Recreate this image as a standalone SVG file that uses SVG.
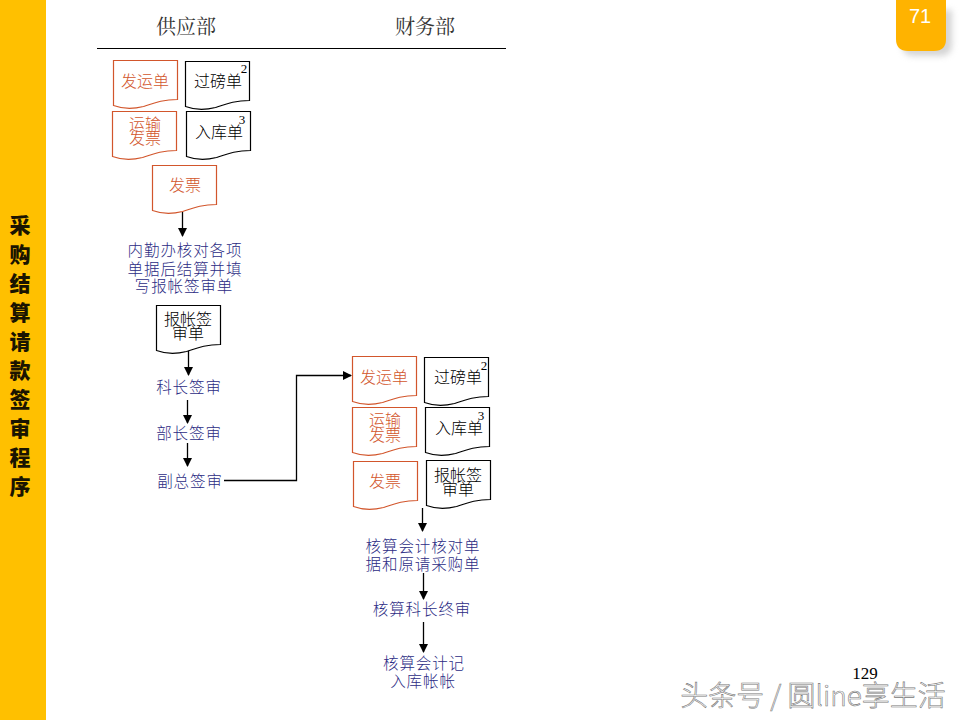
<svg xmlns="http://www.w3.org/2000/svg" width="960" height="720" viewBox="0 0 960 720">
<style>
text{font-family:"Noto Sans CJK SC","Noto Sans CJK JP",sans-serif;text-anchor:middle}
.doc{fill:#fff;stroke-width:1.2}
.r{stroke:#d2562c}.k{stroke:#000}
.tr{fill:#d2562c;font-size:16px;font-weight:300}.tk{fill:#000;font-size:16px;font-weight:300}
.tb{fill:#2c2c84;font-size:15.500px;letter-spacing:.9px;font-weight:300}
.h{fill:#333;font-size:20px;font-family:"Noto Serif CJK SC","Noto Sans CJK SC",sans-serif}
.s{font-family:"Liberation Serif",serif;font-size:13px;fill:#000}
.c{fill:none;stroke:#000;stroke-width:1.3}
.side{fill:#1a1400;font-size:21px;font-weight:900}
</style>
<defs>
<marker id="a" markerWidth="10" markerHeight="10" refX="8" refY="4.500" orient="auto" markerUnits="userSpaceOnUse"><path d="M0 0L9 4.500L0 9z" fill="#000"/></marker>
<path id="d" d="M0 0H64V39C50 39 42 42 30 46C18 49 8 48 0 45Z"/>
<filter id="sh" x="-20%" y="-20%" width="150%" height="150%"><feGaussianBlur stdDeviation="3"/></filter>
</defs>
<rect width="960" height="720" fill="#fff"/>
<g id="sidebar"><rect width="46" height="720" fill="#ffc000"/>
<text class="side" x="20" y="233">采</text><text class="side" x="20" y="262">购</text><text class="side" x="20" y="291">结</text><text class="side" x="20" y="320">算</text><text class="side" x="20" y="349">请</text><text class="side" x="20" y="378">款</text><text class="side" x="20" y="407">签</text><text class="side" x="20" y="436">审</text><text class="side" x="20" y="465">程</text><text class="side" x="20" y="494">序</text></g>
<g id="page-tab"><path d="M902 10H952V44Q952 56 940 56H914Q902 56 902 44Z" fill="#aaa" opacity=".5" filter="url(#sh)"/><path d="M896 0H946V39Q946 51 934 51H908Q896 51 896 39Z" fill="#ffb300"/><text x="920" y="23" font-size="20" style="font-family:'Liberation Sans',sans-serif" fill="#fff">71</text></g>
<g id="header"><text class="h" x="186" y="34">供应部</text><text class="h" x="425" y="34">财务部</text><line x1="97" y1="48.500" x2="506" y2="48.500" stroke="#000" stroke-width="1.2"/></g>
<g id="connectors">
<path class="c" d="M182.500 212V236" marker-end="url(#a)"/>
<path class="c" d="M188.500 350V375" marker-end="url(#a)"/>
<path class="c" d="M187.500 400V423" marker-end="url(#a)"/>
<path class="c" d="M187.500 443V466" marker-end="url(#a)"/>
<path class="c" d="M224 480.500H296.500V375.500H351" marker-end="url(#a)"/>
<path class="c" d="M422.500 508V531" marker-end="url(#a)"/>
<path class="c" d="M423.500 573V599" marker-end="url(#a)"/>
<path class="c" d="M423.500 622V652" marker-end="url(#a)"/>
</g>
<g id="n1"><use href="#d" x="113.500" y="60.500" class="doc r"/><text class="tr" x="145" y="87">发运单</text></g>
<g id="n2"><use href="#d" x="185.500" y="61.500" class="doc k"/><text class="tk" x="218" y="87">过磅单</text><text class="s" x="244" y="73">2</text></g>
<g id="n3"><use href="#d" x="112.500" y="111.500" class="doc r"/><text class="tr" x="145" y="130">运输</text><text class="tr" x="145" y="144">发票</text></g>
<g id="n4"><use href="#d" x="186.500" y="111.500" class="doc k"/><text class="tk" x="219" y="138">入库单</text><text class="s" x="242" y="124">3</text></g>
<g id="n5"><use href="#d" x="152.500" y="165.500" class="doc r"/><text class="tr" x="185" y="191">发票</text></g>
<g id="n6"><text class="tb" x="185" y="256">内勤办核对各项</text><text class="tb" x="185" y="275">单据后结算并填</text><text class="tb" x="184" y="292">写报帐签审单</text></g>
<g id="n7"><use href="#d" x="156.500" y="305.500" class="doc k"/><text class="tk" x="188" y="325">报帐签</text><text class="tk" x="188" y="339">审单</text></g>
<g id="n8"><text class="tb" x="189" y="393">科长签审</text></g>
<g id="n9"><text class="tb" x="189" y="439">部长签审</text></g>
<g id="n10"><text class="tb" x="190" y="487">副总签审</text></g>
<g id="n11"><use href="#d" x="352.500" y="356.500" class="doc r"/><text class="tr" x="384" y="383">发运单</text></g>
<g id="n12"><use href="#d" x="424.500" y="357.500" class="doc k"/><text class="tk" x="458" y="383">过磅单</text><text class="s" x="484" y="370">2</text></g>
<g id="n13"><use href="#d" x="352.500" y="407.500" class="doc r"/><text class="tr" x="385" y="426">运输</text><text class="tr" x="385" y="441">发票</text></g>
<g id="n14"><use href="#d" x="425.500" y="407.500" class="doc k"/><text class="tk" x="459" y="434">入库单</text><text class="s" x="481" y="420">3</text></g>
<g id="n15"><use href="#d" x="353.500" y="461.500" class="doc r"/><text class="tr" x="385" y="487">发票</text></g>
<g id="n16"><use href="#d" x="426.500" y="460.500" class="doc k"/><text class="tk" x="458" y="481">报帐签</text><text class="tk" x="458" y="495">审单</text></g>
<g id="n17"><text class="tb" x="423" y="552">核算会计核对单</text><text class="tb" x="423" y="570">据和原请采购单</text></g>
<g id="n18"><text class="tb" x="422" y="615">核算科长终审</text></g>
<g id="n19"><text class="tb" x="424" y="669">核算会计记</text><text class="tb" x="423" y="687">入库帐帐</text></g>
<text x="865" y="679" font-size="17" style="font-family:'Liberation Serif',serif" fill="#000">129</text>
<text x="813" y="706" font-size="28" fill="#fff" stroke="#777" stroke-width=".6" style="font-family:'Noto Sans CJK SC',sans-serif;font-weight:300">头条号 / 圆line享生活</text>
</svg>
